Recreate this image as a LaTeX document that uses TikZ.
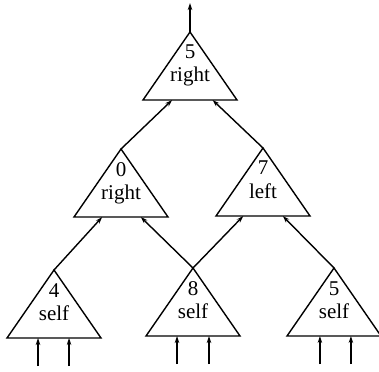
\documentclass[tikz,border=0pt]{standalone}
\usepackage{fontspec}
\setmainfont{Liberation Serif}
\usetikzlibrary{arrows.meta,calc}
\newcommand\mytri[5]{%
  \coordinate (#1) at (#2,#3);
  \coordinate (#1-l) at ($(#1)+(-47,68)$);
  \coordinate (#1-r) at ($(#1)+(47,68)$);
  \draw[tri] (#1) -- (#1-l) -- (#1-r) -- cycle;
  \node[lbl] (#1-n) at ($(#1)+(0,27)$) {#4};
  \node[lbl] (#1-w) at ($(#1)+(0,50)$) {#5};
}
\newcommand\myin[2]{%
  \coordinate (#1-i1) at ($(#1-l)!#2!(#1-r)$);
  \coordinate (#1-s1) at ($(#1-i1)+(0,28)$);
  \draw[arr] (#1-s1) -- (#1-i1);
}
\begin{document}
\begin{tikzpicture}[x=1pt,y=-1pt,line width=1.4pt,
  tri/.style={draw,line join=miter},
  arr/.style={-{Stealth[length=7pt,width=4.5pt]}},
  lbl/.style={font=\fontsize{21}{24}\selectfont,anchor=base,inner sep=0pt}]
\useasboundingbox (0,0) rectangle (379,371);
\mytri{A}{190}{32}{5}{right}
\mytri{B}{121}{149}{0}{right}
\mytri{C}{263}{148}{7}{left}
\mytri{D}{54}{270}{4}{self}
\mytri{E}{193}{268}{8}{self}
\mytri{F}{334}{268}{5}{self}
\coordinate (A-b1) at ($(A-l)!0.31!(A-r)$);
\coordinate (A-b2) at ($(A-l)!0.74!(A-r)$);
\coordinate (B-b1) at ($(B-l)!0.30!(B-r)$);
\coordinate (B-b2) at ($(B-l)!0.71!(B-r)$);
\coordinate (C-b1) at ($(C-l)!0.29!(C-r)$);
\coordinate (C-b2) at ($(C-l)!0.71!(C-r)$);
\coordinate (out) at ($(A)+(0,-29)$);
\draw[arr] (A) -- (out);
\draw[arr] (B) -- (A-b1);
\draw[arr] (C) -- (A-b2);
\draw[arr] (D) -- (B-b1);
\draw[arr] (E) -- (B-b2);
\draw[arr] (E) -- (C-b1);
\draw[arr] (F) -- (C-b2);
\myin{D}{0.33}
\coordinate (D-i2) at ($(D-l)!0.66!(D-r)$);
\coordinate (D-s2) at ($(D-i2)+(0,28)$);
\draw[arr] (D-s2) -- (D-i2);
\myin{E}{0.33}
\coordinate (E-i2) at ($(E-l)!0.67!(E-r)$);
\coordinate (E-s2) at ($(E-i2)+(0,28)$);
\draw[arr] (E-s2) -- (E-i2);
\myin{F}{0.35}
\coordinate (F-i2) at ($(F-l)!0.68!(F-r)$);
\coordinate (F-s2) at ($(F-i2)+(0,28)$);
\draw[arr] (F-s2) -- (F-i2);
\end{tikzpicture}
\end{document}
